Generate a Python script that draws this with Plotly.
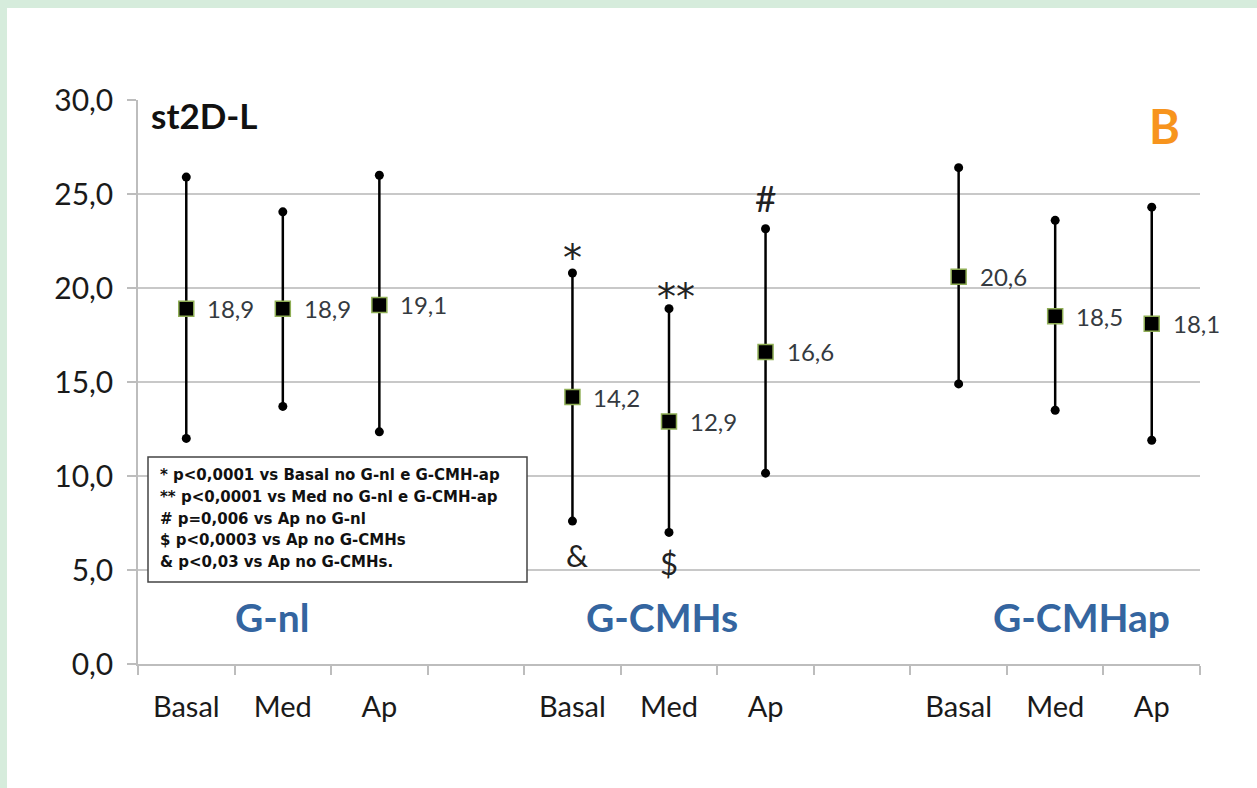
import plotly.graph_objects as go

# ---------------- data ----------------
groups = ["G-nl", "G-CMHs", "G-CMHap"]
phases = ["Basal", "Med", "Ap"]
means = [18.9, 18.9, 19.1, 14.2, 12.9, 16.6, 20.6, 18.5, 18.1]
upper = [25.9, 24.05, 26.0, 20.8, 18.9, 23.15, 26.4, 23.6, 24.3]
lower = [12.0, 13.7, 12.35, 7.6, 7.0, 10.15, 14.9, 13.5, 11.9]
y_ticks = [0, 5, 10, 15, 20, 25, 30]
legend_lines = [
    "* p<0,0001 vs Basal no G-nl e G-CMH-ap",
    "** p<0,0001 vs Med no G-nl e G-CMH-ap",
    "# p=0,006 vs Ap no G-nl",
    "$ p<0,0003 vs Ap no G-CMHs",
    "& p<0,03 vs Ap no G-CMHs.",
]

# slot positions: 3 phases per group, one empty slot between groups
xs = []
xlabels = []
for gi, g in enumerate(groups):
    for pi, p in enumerate(phases):
        xs.append(gi * 4 + pi)
        xlabels.append(p)

def fmt(v):
    return f"{v:.1f}".replace(".", ",")

W, H = 1257, 788
L, R, T, B = 138, 57, 100, 124

fig = go.Figure()

# whiskers
fig.add_trace(go.Scatter(
    x=xs, y=means, mode="markers",
    marker=dict(size=1, color="rgba(0,0,0,0)"),
    error_y=dict(type="data", symmetric=False,
                 array=[u - m for u, m in zip(upper, means)],
                 arrayminus=[m - l for l, m in zip(lower, means)],
                 color="black", thickness=2.5, width=0),
    hoverinfo="skip", showlegend=False))
# endpoints
fig.add_trace(go.Scatter(x=xs, y=upper, mode="markers",
                         marker=dict(symbol="circle", size=9, color="black"),
                         showlegend=False))
fig.add_trace(go.Scatter(x=xs, y=lower, mode="markers",
                         marker=dict(symbol="circle", size=9, color="black"),
                         showlegend=False))
# means
fig.add_trace(go.Scatter(
    x=xs, y=means, mode="markers",
    marker=dict(symbol="square", size=15, color="black",
                line=dict(color="#8fae55", width=1.5)),
    showlegend=False))

# value labels
for x, m in zip(xs, means):
    fig.add_annotation(x=x, y=m, text=fmt(m), showarrow=False,
                       xanchor="left", yanchor="middle", xshift=19,
                       font=dict(family="Lato", size=24, color="#353a40"))

font_main = "Lato"

fig.update_layout(
    width=W, height=H,
    margin=dict(l=L, r=R, t=T, b=B),
    paper_bgcolor="white", plot_bgcolor="white",
    showlegend=False,
    xaxis=dict(
        range=[-0.5, 10.5], tickmode="array", tickvals=xs, ticktext=xlabels,
        ticks="", showgrid=False, zeroline=False,
        showline=True, linecolor="#bdbdbd", linewidth=2,
        ticklabelstandoff=16,
        tickfont=dict(family=font_main, size=29, color="#1a1a1a"),
        minor=dict(tickmode="array", tickvals=[i - 0.5 for i in range(12)],
                   ticks="outside", ticklen=9, tickcolor="#bdbdbd",
                   tickwidth=1.5, showgrid=False),
    ),
    yaxis=dict(
        range=[0, 30], tickmode="array", tickvals=y_ticks,
        ticktext=[fmt(v) for v in y_ticks],
        ticks="outside", ticklen=9, tickcolor="#bdbdbd", tickwidth=1.5,
        ticklabelstandoff=8,
        showgrid=True, gridcolor="#c8c8c8", gridwidth=1.5,
        zeroline=False, showline=True, linecolor="#bdbdbd", linewidth=1.5,
        tickfont=dict(family=font_main, size=30, color="#1a1a1a"),
    ),
)

# light green frame on left and top
def px_to_paper_x(px):
    return (px - L) / (W - L - R)

def py_to_paper_y(py):
    return (H - B - py) / (H - T - B)

fig.add_shape(type="rect", xref="paper", yref="paper",
              x0=px_to_paper_x(0), x1=px_to_paper_x(7),
              y0=py_to_paper_y(H), y1=py_to_paper_y(0),
              fillcolor="#d6ecdc", line=dict(width=0), layer="above")
fig.add_shape(type="rect", xref="paper", yref="paper",
              x0=px_to_paper_x(0), x1=px_to_paper_x(W),
              y0=py_to_paper_y(8), y1=py_to_paper_y(0),
              fillcolor="#d6ecdc", line=dict(width=0), layer="above")

# significance symbols
ast_font = dict(family="DejaVu Sans", size=38, color="#222222")
sym_font = dict(family="Lato", size=31, color="#222222")
fig.add_annotation(x=4, y=21.6, text="*", showarrow=False, font=ast_font,
                   xanchor="center", yanchor="middle")
fig.add_annotation(x=5.07, y=19.5, text="**", showarrow=False, font=ast_font,
                   xanchor="center", yanchor="middle")
fig.add_annotation(x=6, y=24.8, text="#", showarrow=False,
                   font=dict(family="Lato", size=37, color="#222222"),
                   xanchor="center", yanchor="middle")
for sx, sy, s in [(4.05, 5.8, "&"), (5, 5.35, "$")]:
    fig.add_annotation(x=sx, y=sy, text=s, showarrow=False, font=sym_font,
                       xanchor="center", yanchor="middle")

# group labels
grp_font = dict(family=font_main, size=39, color="#3465a0")
for gx, g in zip([0.89, 4.93, 9.27], groups):
    fig.add_annotation(x=gx, y=2.52, text=f"<b>{g}</b>", showarrow=False,
                       font=grp_font, xanchor="center", yanchor="middle")

# title & panel letter
fig.add_annotation(xref="paper", yref="paper",
                   x=px_to_paper_x(149), y=py_to_paper_y(115),
                   text="<b>st2D-L</b>", showarrow=False,
                   font=dict(family=font_main, size=35, color="#111111"),
                   xanchor="left", yanchor="middle")
fig.add_annotation(xref="paper", yref="paper",
                   x=px_to_paper_x(1164), y=py_to_paper_y(126),
                   text="<b>B</b>", showarrow=False,
                   font=dict(family=font_main, size=47, color="#f7941d"),
                   xanchor="center", yanchor="middle")

# legend box
fig.add_shape(type="rect", xref="paper", yref="paper",
              x0=px_to_paper_x(148), x1=px_to_paper_x(527),
              y0=py_to_paper_y(582), y1=py_to_paper_y(457),
              fillcolor="white", line=dict(color="#444444", width=1.5),
              layer="above")
for i, line in enumerate(legend_lines):
    fig.add_annotation(xref="paper", yref="paper",
                       x=px_to_paper_x(158), y=py_to_paper_y(475 + i * 21.8),
                       xanchor="left", yanchor="middle",
                       text=f"<b>{line}</b>", showarrow=False,
                       font=dict(family="DejaVu Sans", size=15, color="#111111"))

fig.write_html("out.html")
